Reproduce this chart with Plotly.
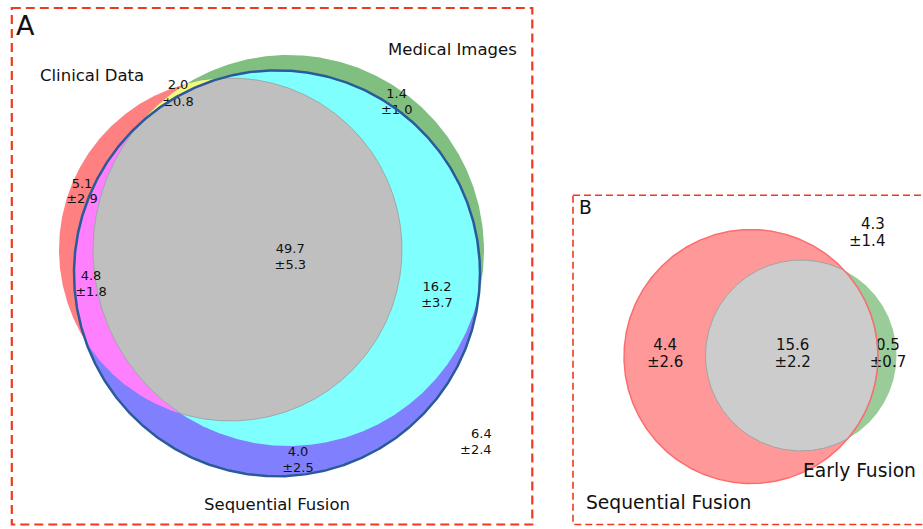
import numpy as np
import plotly.graph_objects as go

# ---------------- DATA ----------------
# Panel A: three-set Venn (Clinical Data, Medical Images, Sequential Fusion)
a_set_names = ["Clinical Data", "Medical Images", "Sequential Fusion"]
# regions: Clin only, Med only, Seq only, Clin&Med, Clin&Seq, Med&Seq, all three
a_region_means = [5.1, 1.4, 4.0, 2.0, 4.8, 16.2, 49.7]
a_region_stds = [2.9, 1.0, 2.5, 0.8, 1.8, 3.7, 5.3]
a_outside_mean = [6.4]
a_outside_std = [2.4]

# Panel B: two-set Venn (Sequential Fusion, Early Fusion)
b_set_names = ["Sequential Fusion", "Early Fusion"]
# regions: Seq only, Early only, both
b_region_means = [4.4, 0.5, 15.6]
b_region_stds = [2.6, 0.7, 2.2]
b_outside_mean = [4.3]
b_outside_std = [1.4]

# ---------------- LAYOUT (geometry in page pixels) ----------------
W, H = 923, 529
FONT = "DejaVu Sans"

a_circles = [(230.5, 249.5, 171.5),   # Clinical Data
             (288.5, 250.5, 195.5),   # Medical Images
             (277.0, 273.3, 203.0)]   # Sequential Fusion
b_circles = [(751.0, 356.5, 127.0),   # Sequential Fusion
             (801.0, 355.5, 95.5)]    # Early Fusion

a_label_pos = [(82, 184.3, 200.0), (396.7, 95.0, 110.5), (298, 452.5, 468.3),
               (178, 85.7, 102.5), (91, 277.0, 292.7), (437, 287.7, 303.7),
               (290.3, 249.5, 265.3)]
a_outside_pos = (492.5, 433.3, 449.0)
a_name_pos = [(91.5, 75.0), (452.0, 49.0), (276.7, 504.5)]

b_label_pos = [(665.2, 345.8, 363.2), (888.0, 345.8, 363.2), (792.6, 345.8, 363.2)]
b_outside_pos = (886.0, 223.7, 240.8)
b_name_pos = [(668.3, 502.0), (859.3, 470.5)]

a_colors = {"r": "#ff8080", "g": "#80bf80", "b": "#8080ff",
            "rg": "#f8f87c", "rb": "#ff80ff", "gb": "#80ffff", "rgb": "#bfbfbf"}
b_colors = {"r": "#ff9999", "g": "#99cc99", "rg": "#cccccc"}
box_color = "#ee3b1f"


# ---------------- GEOMETRY HELPERS ----------------
def circle_points(c, n=720, endpoint=True):
    t = np.linspace(0, 2 * np.pi, n, endpoint=endpoint)
    return np.column_stack([c[0] + c[2] * np.cos(t), c[1] + c[2] * np.sin(t)])


def inside(P, c, tol=1e-6):
    return np.hypot(P[:, 0] - c[0], P[:, 1] - c[1]) <= c[2] + tol


def pair_intersections(c1, c2):
    x1, y1, r1 = c1
    x2, y2, r2 = c2
    d = np.hypot(x2 - x1, y2 - y1)
    if d > r1 + r2 or d < abs(r1 - r2) or d == 0:
        return np.empty((0, 2))
    a = (r1 ** 2 - r2 ** 2 + d ** 2) / (2 * d)
    h = np.sqrt(max(r1 ** 2 - a ** 2, 0))
    xm = x1 + a * (x2 - x1) / d
    ym = y1 + a * (y2 - y1) / d
    return np.array([[xm + h * (y2 - y1) / d, ym - h * (x2 - x1) / d],
                     [xm - h * (y2 - y1) / d, ym + h * (x2 - x1) / d]])


def convex_intersection(circles, n=1440):
    pts = []
    for i, c in enumerate(circles):
        P = circle_points(c, n, endpoint=False)
        mask = np.ones(len(P), bool)
        for j, o in enumerate(circles):
            if j != i:
                mask &= inside(P, o)
        pts.append(P[mask])
    for i in range(len(circles)):
        for j in range(i + 1, len(circles)):
            Q = pair_intersections(circles[i], circles[j])
            if len(Q):
                mask = np.ones(len(Q), bool)
                for k, o in enumerate(circles):
                    if k not in (i, j):
                        mask &= inside(Q, o)
                pts.append(Q[mask])
    P = np.vstack(pts)
    ctr = P.mean(axis=0)
    order = np.argsort(np.arctan2(P[:, 1] - ctr[1], P[:, 0] - ctr[0]))
    P = P[order]
    return np.vstack([P, P[:1]])


def fill_trace(P, color):
    return go.Scatter(x=P[:, 0], y=P[:, 1], mode="lines", fill="toself",
                      fillcolor=color, line=dict(width=0, color=color),
                      hoverinfo="skip", showlegend=False)


def edge_trace(P, color, width):
    return go.Scatter(x=P[:, 0], y=P[:, 1], mode="lines",
                      line=dict(width=width, color=color),
                      hoverinfo="skip", showlegend=False)


def fmt(m, s):
    return f"{m:.1f}", f"\u00b1{s:.1f}"


fig = go.Figure()

# ---------------- PANEL A ----------------
cr, cg, cb = a_circles
fig.add_trace(fill_trace(circle_points(cr), a_colors["r"]))
fig.add_trace(fill_trace(circle_points(cg), a_colors["g"]))
fig.add_trace(fill_trace(circle_points(cb), a_colors["b"]))
fig.add_trace(fill_trace(convex_intersection([cr, cg]), a_colors["rg"]))
fig.add_trace(fill_trace(convex_intersection([cr, cb]), a_colors["rb"]))
fig.add_trace(fill_trace(convex_intersection([cg, cb]), a_colors["gb"]))
abc = convex_intersection([cr, cg, cb])
fig.add_trace(fill_trace(abc, a_colors["rgb"]))
fig.add_trace(edge_trace(abc, "#9a9a9a", 0.8))

xs, ys, ts = [], [], []
for (x, y1, y2), m, s in zip(a_label_pos, a_region_means, a_region_stds):
    t1, t2 = fmt(m, s)
    xs += [x, x]
    ys += [y1, y2]
    ts += [t1, t2]
fig.add_trace(go.Scatter(x=xs, y=ys, text=ts, mode="text",
                         textposition="middle center",
                         textfont=dict(family=FONT, size=13, color="#111111"),
                         hoverinfo="skip", showlegend=False))
fig.add_trace(edge_trace(circle_points(cb), "#2a5a9a", 2.5))

# ---------------- PANEL B ----------------
sr, se = b_circles
fig.add_trace(fill_trace(circle_points(sr), b_colors["r"]))
fig.add_trace(fill_trace(circle_points(se), b_colors["g"]))
lens = convex_intersection([sr, se])
fig.add_trace(fill_trace(lens, b_colors["rg"]))
fig.add_trace(edge_trace(lens, "#a3a3a3", 1.0))

xs, ys, ts = [], [], []
for (x, y1, y2), m, s in zip(b_label_pos, b_region_means, b_region_stds):
    t1, t2 = fmt(m, s)
    xs += [x, x]
    ys += [y1, y2]
    ts += [t1, t2]
fig.add_trace(go.Scatter(x=xs, y=ys, text=ts, mode="text",
                         textposition="middle center",
                         textfont=dict(family=FONT, size=15, color="#111111"),
                         hoverinfo="skip", showlegend=False))
fig.add_trace(edge_trace(circle_points(sr), "#ff6b6b", 1.5))

# ---------------- ANNOTATIONS ----------------
ann = []


def add_text(x, y, text, size, xanchor="center"):
    ann.append(dict(x=x, y=y, xref="x", yref="y", text=text, showarrow=False,
                    xanchor=xanchor, yanchor="middle", borderpad=0,
                    font=dict(family=FONT, size=size, color="#111111")))


for (x, y), name in zip(a_name_pos, a_set_names):
    add_text(x, y, name, 16.5)
for (x, y), name in zip(b_name_pos, b_set_names):
    add_text(x, y, name, 18.7)

t1, t2 = fmt(a_outside_mean[0], a_outside_std[0])
add_text(a_outside_pos[0], a_outside_pos[1], t1, 13, "right")
add_text(a_outside_pos[0], a_outside_pos[2], t2, 13, "right")
t1, t2 = fmt(b_outside_mean[0], b_outside_std[0])
add_text(b_outside_pos[0], b_outside_pos[1], t1, 15, "right")
add_text(b_outside_pos[0], b_outside_pos[2], t2, 15, "right")

add_text(14.5, 25.0, "A", 27, "left")
add_text(577.5, 207.5, "B", 18.7, "left")

shapes = [
    dict(type="rect", xref="x", yref="y", x0=11.8, y0=8.0, x1=532.3, y1=524.5,
         line=dict(color=box_color, width=2.2, dash="9px,5px"), layer="above"),
    dict(type="rect", xref="x", yref="y", x0=573.0, y0=195.2, x1=935, y1=524.5,
         line=dict(color=box_color, width=1.6, dash="7px,4px"), layer="above"),
]

fig.update_layout(
    width=W, height=H,
    margin=dict(l=0, r=0, t=0, b=0),
    paper_bgcolor="white", plot_bgcolor="white",
    showlegend=False,
    xaxis=dict(range=[0, W], visible=False, fixedrange=True),
    yaxis=dict(range=[H, 0], visible=False, fixedrange=True),
    annotations=ann,
    shapes=shapes,
)

fig.write_html(
    "out.html",
    config={"displayModeBar": False},
    post_script="document.body.style.margin='0';document.body.style.padding='0';"
                "document.body.style.overflow='hidden';",
)
